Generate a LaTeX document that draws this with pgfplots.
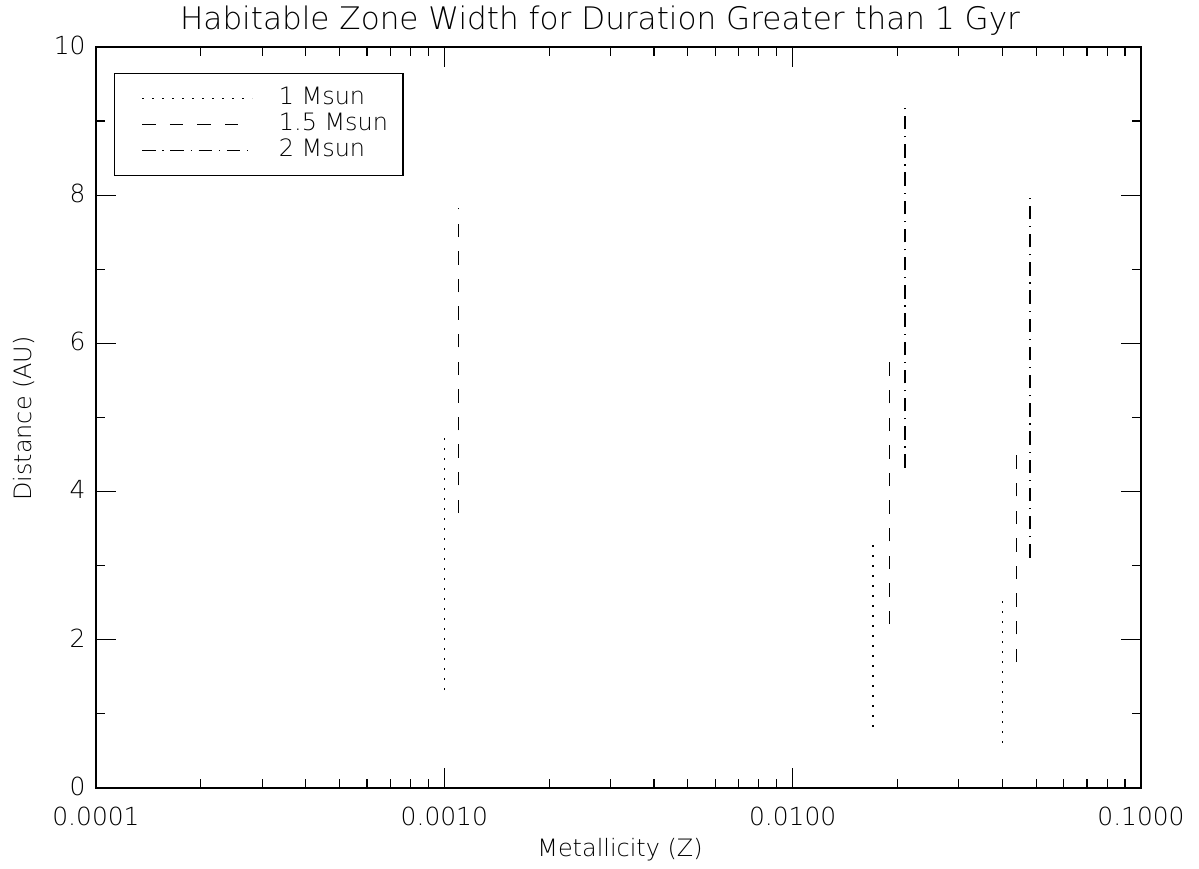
\documentclass[border=0pt]{standalone}
\usepackage{fontspec}
\setmainfont{DejaVu Sans ExtraLight}
\usepackage{pgfplots}
\pgfplotsset{compat=1.18}

\begin{document}
\begin{tikzpicture}
\path[use as bounding box] (0,0) rectangle (599.5bp,434.5bp);
\begin{axis}[
    at={(48bp,40.5bp)}, anchor=south west,
    width=522.5bp, height=370.5bp, scale only axis,
    xmode=log, log basis x=10,
    xmin=1e-4, xmax=0.1, ymin=0, ymax=10,
    xtick={1e-4,1e-3,1e-2,1e-1},
    xticklabels={0.0001,0.0010,0.0100,0.1000},
    minor xtick={2e-4,3e-4,4e-4,5e-4,6e-4,7e-4,8e-4,9e-4,
                 2e-3,3e-3,4e-3,5e-3,6e-3,7e-3,8e-3,9e-3,
                 2e-2,3e-2,4e-2,5e-2,6e-2,7e-2,8e-2,9e-2},
    ytick={0,2,4,6,8,10}, yticklabels={0,2,4,6,8,10},
    minor ytick={1,3,5,7,9},
    tick align=inside, tick pos=both,
    major tick length=10bp, minor tick length=4.5bp,
    axis line style={line width=0.6bp},
    tick style={black, line width=0.6bp},
    tick label style={font=\fontsize{12.5}{14}\selectfont},
    xticklabel style={anchor=base, yshift=-19bp},
    yticklabel style={anchor=east, inner sep=0pt, xshift=-5bp, yshift=1bp},
    unbounded coords=jump,
    legend style={at={(rel axis cs:0.0172,0.965)}, anchor=north west,
        draw=black, line width=0.6bp, inner xsep=6.5bp, inner ysep=6bp,
        font=\fontsize{12}{14}\selectfont,
        nodes={inner sep=1bp, text height=8.5bp, text depth=2.5bp},
        /tikz/every odd column/.append style={column sep=12bp}},
    legend cell align=left,
    legend image code/.code={\path (0bp,0bp); \draw[#1] (7bp,0bp) -- (62bp,0bp);},
]
\addplot[black, line width=0.7bp, dash pattern=on 1bp off 4bp] coordinates {
    (0.001,1.32) (0.001,4.81) (0.003,nan)
    (0.017,0.82) (0.017,3.31) (0.03,nan)
    (0.040,0.61) (0.040,2.62)};
\addplot[black, line width=0.7bp, dash pattern=on 6.7bp off 7.1bp] coordinates {
    (0.0011,3.71) (0.0011,7.83) (0.003,nan)
    (0.019,2.21) (0.019,5.92) (0.03,nan)
    (0.044,1.70) (0.044,4.62)};
\addplot[black, line width=0.7bp, dash pattern=on 6.7bp off 3.4bp on 0.6bp off 3.4bp] coordinates {
    (0.021,4.32) (0.021,9.23) (0.03,nan)
    (0.048,3.11) (0.048,8.03)};
\legend{1 Msun, 1.5 Msun, 2 Msun}
\end{axis}
\node[anchor=base, font=\fontsize{15.6}{18}\selectfont] at (300bp,419.5bp)
    {Habitable Zone Width for Duration Greater than 1 Gyr};
\node[anchor=base, font=\fontsize{12}{14}\selectfont] at (310bp,6.5bp)
    {Metallicity (Z)};
\node[anchor=base, rotate=90, font=\fontsize{12}{14}\selectfont] at (15.5bp,225.25bp)
    {Distance (AU)};
\end{tikzpicture}
\end{document}
